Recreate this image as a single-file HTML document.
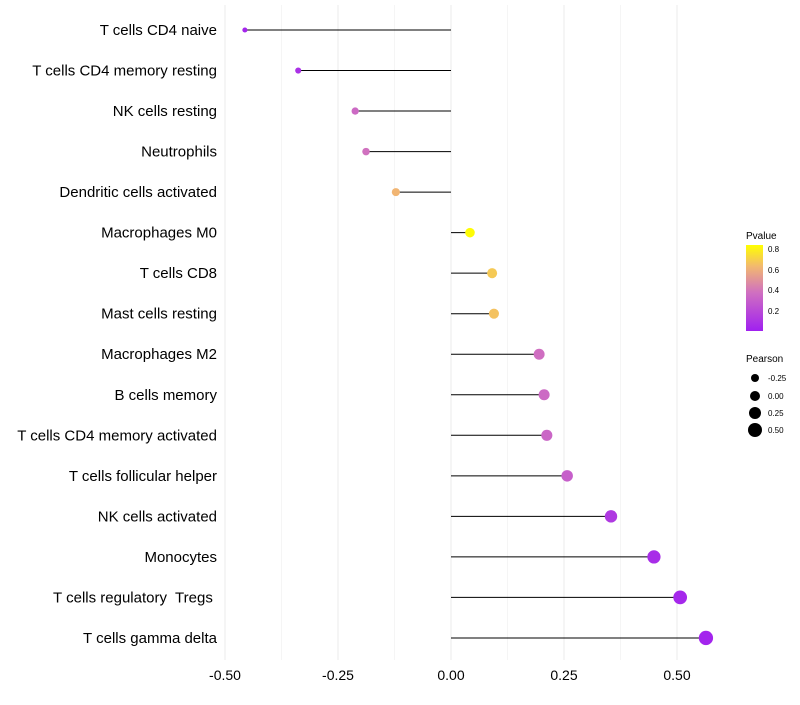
<!DOCTYPE html>
<html><head><meta charset="utf-8"><style>
body{margin:0;background:#fff;font-family:"Liberation Sans",sans-serif;}
text{white-space:pre;}
</style></head><body>
<svg id="chart" width="800" height="700" xmlns="http://www.w3.org/2000/svg">
<defs><linearGradient id="pg" x1="0" y1="1" x2="0" y2="0">
<stop offset="0" stop-color="#a020f0"/><stop offset="0.45" stop-color="#d070c0"/><stop offset="0.75" stop-color="#f2b870"/><stop offset="1" stop-color="#ffff00"/>
</linearGradient></defs>
<g id="grid"></g><g id="marks"></g><g id="labels"></g>
<g>
<text x="746" y="239" font-size="10">Pvalue</text>
<rect x="746" y="245" width="17" height="86" fill="url(#pg)"/>
<g font-size="8"><text x="768" y="252">0.8</text><text x="768" y="273">0.6</text><text x="768" y="293">0.4</text><text x="768" y="314">0.2</text></g>
</g>
<g>
<text x="746" y="362" font-size="10">Pearson</text>
<circle cx="755" cy="378" r="4"/><circle cx="755" cy="396" r="5"/><circle cx="755" cy="413" r="6"/><circle cx="755" cy="430" r="7"/>
<g font-size="8"><text x="768" y="381">-0.25</text><text x="768" y="399">0.00</text><text x="768" y="416">0.25</text><text x="768" y="433">0.50</text></g>
</g>
</svg>
<script>
const categories=["T cells CD4 naive","T cells CD4 memory resting","NK cells resting","Neutrophils","Dendritic cells activated","Macrophages M0","T cells CD8","Mast cells resting","Macrophages M2","B cells memory","T cells CD4 memory activated","T cells follicular helper","NK cells activated","Monocytes","T cells regulatory  Tregs ","T cells gamma delta"];
const pearson=[-0.456,-0.338,-0.212,-0.188,-0.122,0.042,0.091,0.095,0.195,0.206,0.212,0.257,0.354,0.449,0.507,0.564];
const pvalue=[0.03,0.08,0.35,0.38,0.62,0.83,0.68,0.66,0.37,0.35,0.33,0.3,0.12,0.06,0.04,0.02];
const xTicks=[-0.5,-0.25,0,0.25,0.5];
const xTickLabels=["-0.50","-0.25","0.00","0.25","0.50"];
const NS="http://www.w3.org/2000/svg";
const xs=v=>451+v*452;
const ys=i=>30+i*40.53;
const rs=v=>4.6+4.5*v;
function col(p){const t=Math.max(0,Math.min(1,p/0.84));
const st=[[0,[160,32,240]],[0.45,[208,112,192]],[0.75,[242,184,112]],[1,[255,255,0]]];
for(let k=0;k<st.length-1;k++){const[a,ca]=st[k],[b,cb]=st[k+1];if(t<=b){const f=(t-a)/(b-a);return`rgb(${ca.map((c,j)=>Math.round(c+(cb[j]-c)*f)).join(',')})`;}}return"rgb(255,255,0)";}
function mk(tag,at,parent){const e=document.createElementNS(NS,tag);for(const k in at)e.setAttribute(k,at[k]);parent.appendChild(e);return e;}
const grid=document.getElementById('grid'),marks=document.getElementById('marks'),labels=document.getElementById('labels');
for(let v=-0.5;v<=0.501;v+=0.125){const g=mk('line',{x1:xs(v),x2:xs(v),y1:5,y2:660,stroke:Math.abs((v*4)%1)<1e-6?'#ebebeb':'#f5f5f5','stroke-width':1},grid);

}
xTicks.forEach((v,i)=>{const t=mk('text',{x:xs(v),y:680,'font-size':14,'text-anchor':'middle',fill:'#000'},labels);t.textContent=xTickLabels[i];

});
categories.forEach((c,i)=>{const y=ys(i);
const t=mk('text',{x:217,y:y+5,'font-size':15,'text-anchor':'end',fill:'#000'},labels);t.textContent=c;


const l=mk('line',{x1:xs(0),x2:xs(pearson[i]),y1:y,y2:y,stroke:'#000','stroke-width':1},marks);


const p=mk('circle',{cx:xs(pearson[i]),cy:y,r:rs(pearson[i]),fill:col(pvalue[i])},marks);

});
</script>
</body></html>
